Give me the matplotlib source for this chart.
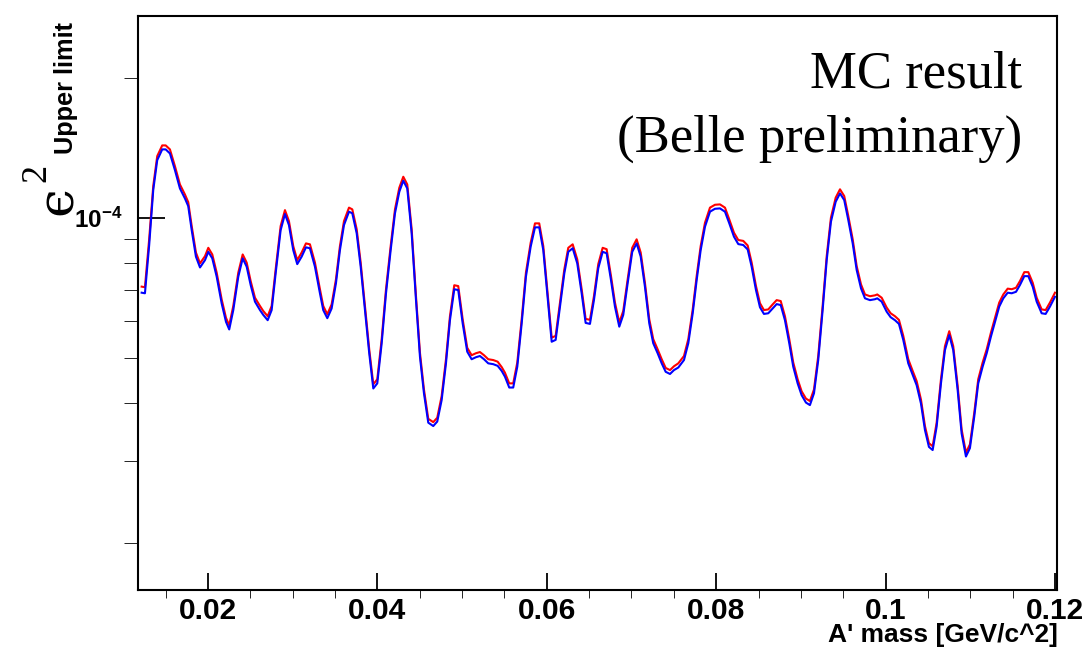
import numpy as np
import matplotlib
matplotlib.use('Agg')  # headless
import matplotlib.pyplot as plt
from matplotlib.ticker import FixedLocator, NullFormatter, FixedFormatter

# A' mass points [GeV/c^2]
mass = [0.01217, 0.01256, 0.01306, 0.01354, 0.01401, 0.01460, 0.01501, 0.01551, 0.01610, 0.01669,
        0.01728, 0.01767, 0.01808, 0.01858, 0.01906, 0.01965, 0.02004, 0.02051, 0.02103, 0.02162,
        0.02213, 0.02251, 0.02299, 0.02358, 0.02410, 0.02457, 0.02504, 0.02555, 0.02614, 0.02653,
        0.02705, 0.02752, 0.02799, 0.02858, 0.02909, 0.02956, 0.03007, 0.03054, 0.03106, 0.03157,
        0.03204, 0.03263, 0.03322, 0.03361, 0.03409, 0.03460, 0.03511, 0.03558, 0.03606, 0.03665,
        0.03704, 0.03756, 0.03803, 0.03854, 0.03904, 0.03952, 0.03999, 0.04051, 0.04102, 0.04157,
        0.04208, 0.04259, 0.04306, 0.04353, 0.04405, 0.04456, 0.04503, 0.04550, 0.04601, 0.04660,
        0.04707, 0.04759, 0.04810, 0.04857, 0.04908, 0.04955, 0.05007, 0.05061, 0.05113, 0.05164,
        0.05211, 0.05259, 0.05309, 0.05368, 0.05420, 0.05468, 0.05506, 0.05557, 0.05604, 0.05652,
        0.05704, 0.05754, 0.05810, 0.05861, 0.05911, 0.05959, 0.06006, 0.06058, 0.06105, 0.06156,
        0.06207, 0.06254, 0.06306, 0.06360, 0.06412, 0.06459, 0.06510, 0.06557, 0.06608, 0.06660,
        0.06707, 0.06758, 0.06805, 0.06856, 0.06903, 0.06955, 0.07009, 0.07061, 0.07109, 0.07159,
        0.07210, 0.07257, 0.07309, 0.07357, 0.07404, 0.07455, 0.07502, 0.07553, 0.07620, 0.07671,
        0.07723, 0.07770, 0.07817, 0.07868, 0.07927, 0.07986, 0.08045, 0.08104, 0.08155, 0.08210,
        0.08261, 0.08320, 0.08372, 0.08419, 0.08470, 0.08517, 0.08564, 0.08615, 0.08667, 0.08714,
        0.08762, 0.08812, 0.08863, 0.08910, 0.08962, 0.09009, 0.09060, 0.09107, 0.09155, 0.09205,
        0.09257, 0.09305, 0.09355, 0.09411, 0.09462, 0.09512, 0.09560, 0.09612, 0.09659, 0.09710,
        0.09757, 0.09816, 0.09875, 0.09902, 0.09954, 0.10013, 0.10060, 0.10111, 0.10158, 0.10209,
        0.10268, 0.10320, 0.10367, 0.10418, 0.10465, 0.10512, 0.10556, 0.10603, 0.10654, 0.10701,
        0.10752, 0.10799, 0.10851, 0.10898, 0.10949, 0.10996, 0.11047, 0.11094, 0.11146, 0.11194,
        0.11244, 0.11292, 0.11342, 0.11390, 0.11442, 0.11489, 0.11540, 0.11587, 0.11638, 0.11685,
        0.11737, 0.11784, 0.11843, 0.11890, 0.11941, 0.12000]

# epsilon^2 upper limits, in units of 1e-5
ul_blue = [6.91, 6.89, 8.75, 11.49, 13.32, 14.05, 14.05, 13.77, 12.68, 11.58, 11.02, 10.61, 9.42, 8.26, 7.83,
           8.12, 8.46, 8.19, 7.48, 6.55, 5.98, 5.76, 6.34, 7.48, 8.19, 7.86, 7.18, 6.61, 6.34, 6.19, 6.03,
           6.34, 7.60, 9.42, 10.20, 9.66, 8.53, 7.96, 8.26, 8.65, 8.61, 7.86, 6.89, 6.34, 6.09, 6.39, 7.24,
           8.53, 9.66, 10.32, 10.24, 9.27, 7.86, 6.34, 5.12, 4.30, 4.41, 5.38, 6.89, 8.53, 10.24, 11.39,
           12.03, 11.58, 9.27, 6.66, 5.03, 4.20, 3.63, 3.57, 3.65, 4.06, 4.87, 6.03, 7.03, 7.00, 5.94, 5.16,
           4.97, 5.02, 5.05, 4.97, 4.87, 4.85, 4.81, 4.69, 4.56, 4.32, 4.32, 4.79, 5.94, 7.48, 8.68, 9.55,
           9.55, 8.53, 6.89, 5.42, 5.47, 6.45, 7.60, 8.46, 8.61, 7.99, 6.89, 5.95, 5.92, 6.66, 7.80, 8.46,
           8.40, 7.36, 6.45, 5.84, 6.19, 7.24, 8.46, 8.82, 8.26, 7.12, 5.94, 5.38, 5.12, 4.87, 4.67, 4.62,
           4.71, 4.77, 4.95, 5.38, 6.24, 7.36, 8.53, 9.58, 10.32, 10.47, 10.49, 10.32, 9.74, 9.12, 8.79,
           8.75, 8.56, 7.86, 7.00, 6.43, 6.22, 6.24, 6.39, 6.53, 6.50, 6.03, 5.38, 4.79, 4.41, 4.16, 4.01,
           3.96, 4.20, 4.95, 6.34, 8.12, 9.82, 10.84, 11.30, 10.93, 9.90, 8.82, 7.73, 7.06, 6.72, 6.66,
           6.69, 6.72, 6.61, 6.29, 6.12, 6.03, 5.92, 5.47, 4.87, 4.60, 4.37, 3.99, 3.50, 3.22, 3.17, 3.56,
           4.41, 5.20, 5.60, 5.20, 4.27, 3.44, 3.07, 3.20, 3.74, 4.41, 4.79, 5.12, 5.56, 5.98, 6.45, 6.72,
           6.91, 6.89, 6.94, 7.18, 7.50, 7.50, 7.12, 6.61, 6.24, 6.22, 6.45, 6.77]

ul_red = [7.12, 7.10, 9.01, 11.72, 13.59, 14.33, 14.33, 14.05, 12.93, 11.81, 11.24, 10.82, 9.61, 8.43, 7.99,
          8.28, 8.63, 8.35, 7.63, 6.68, 6.10, 5.88, 6.47, 7.63, 8.35, 8.02, 7.32, 6.74, 6.47, 6.31, 6.15,
          6.47, 7.75, 9.61, 10.40, 9.85, 8.70, 8.12, 8.43, 8.82, 8.78, 8.02, 7.03, 6.47, 6.21, 6.52, 7.38,
          8.70, 9.85, 10.53, 10.44, 9.46, 8.02, 6.47, 5.22, 4.39, 4.50, 5.49, 7.03, 8.70, 10.44, 11.62,
          12.27, 11.81, 9.46, 6.79, 5.13, 4.28, 3.70, 3.64, 3.72, 4.14, 4.97, 6.15, 7.17, 7.14, 6.06, 5.26,
          5.07, 5.12, 5.15, 5.07, 4.97, 4.95, 4.91, 4.78, 4.65, 4.41, 4.41, 4.89, 6.06, 7.63, 8.85, 9.74,
          9.74, 8.70, 7.03, 5.53, 5.58, 6.58, 7.75, 8.63, 8.78, 8.15, 7.03, 6.07, 6.04, 6.79, 7.96, 8.63,
          8.57, 7.51, 6.58, 5.96, 6.31, 7.38, 8.63, 9.00, 8.43, 7.26, 6.06, 5.49, 5.22, 4.97, 4.76, 4.71,
          4.80, 4.87, 5.05, 5.49, 6.36, 7.51, 8.70, 9.77, 10.53, 10.68, 10.70, 10.53, 9.93, 9.30, 8.97,
          8.93, 8.73, 8.02, 7.14, 6.56, 6.34, 6.36, 6.52, 6.66, 6.63, 6.15, 5.49, 4.89, 4.50, 4.24, 4.09,
          4.04, 4.28, 5.05, 6.47, 8.28, 10.02, 11.06, 11.53, 11.15, 10.10, 9.00, 7.88, 7.20, 6.85, 6.79,
          6.82, 6.85, 6.74, 6.42, 6.24, 6.15, 6.04, 5.58, 4.97, 4.69, 4.46, 4.07, 3.57, 3.28, 3.23, 3.63,
          4.50, 5.30, 5.71, 5.30, 4.36, 3.51, 3.13, 3.26, 3.81, 4.50, 4.89, 5.22, 5.67, 6.10, 6.58, 6.85,
          7.05, 7.03, 7.08, 7.32, 7.65, 7.65, 7.26, 6.74, 6.36, 6.34, 6.58, 6.91]

x_ticks = [0.02, 0.04, 0.06, 0.08, 0.10, 0.12]
x_ticklabels = ['0.02', '0.04', '0.06', '0.08', '0.1', '0.12']
x_minor = [0.015, 0.025, 0.03, 0.035, 0.045, 0.05, 0.055, 0.065, 0.07, 0.075,
           0.085, 0.09, 0.095, 0.105, 0.11, 0.115]
y_minor = [2e-5, 3e-5, 4e-5, 5e-5, 6e-5, 7e-5, 8e-5, 9e-5, 2e-4]

plt.rcParams['mathtext.fontset'] = 'custom'
plt.rcParams['mathtext.bf'] = 'Liberation Sans:bold'
plt.rcParams['mathtext.rm'] = 'Liberation Sans:bold'
label_font = 'Liberation Sans'

fig = plt.figure(figsize=(10.84, 6.48), dpi=100)
ax = fig.add_axes([138/1084, 1-590/648, 919/1084, 574/648])

x = np.array(mass)
ax.plot(x, np.array(ul_red) * 1e-5, color='#ff0000', lw=1.5)
ax.plot(x, np.array(ul_blue) * 1e-5, color='#0000ff', lw=1.5)

ax.set_yscale('log')
ax.set_ylim(1.585e-5, 2.72e-4)
ax.set_xlim(0.01174, 0.12024)

ax.xaxis.set_major_locator(FixedLocator(x_ticks))
ax.xaxis.set_major_formatter(FixedFormatter(x_ticklabels))
ax.xaxis.set_minor_locator(FixedLocator(x_minor))
ax.yaxis.set_major_locator(FixedLocator([1e-4]))
ax.yaxis.set_major_formatter(FixedFormatter([r'$\mathbf{10^{-4}}$']))
ax.yaxis.set_minor_locator(FixedLocator(y_minor))
ax.yaxis.set_minor_formatter(NullFormatter())

ax.tick_params(direction='in', width=1.3, top=False, right=False)
ax.tick_params(axis='x', which='major', length=12.5, pad=5)
ax.tick_params(axis='x', which='minor', length=6)
ax.tick_params(axis='y', which='major', length=19.5, pad=11)
ax.tick_params(axis='y', which='minor', length=10)
for lab in ax.get_xticklabels():
    lab.set_family(label_font)
    lab.set_fontweight('bold')
    lab.set_fontsize(21.5)
for lab in ax.get_yticklabels():
    lab.set_fontsize(17.5)
for s in ax.spines.values():
    s.set_linewidth(1.5)

# axis titles
fig.text(1058/1084, 1-635/648, "A' mass [GeV/c^2]", ha='right', va='center',
         family=label_font, fontweight='bold', fontsize=19)
fig.text(58/1084, 1-201/648, '\u03f5', rotation=90, ha='center', va='center',
         family='DejaVu Serif', fontsize=37)
fig.text(37/1084, 1-173/648, '2', rotation=90, ha='center', va='center',
         family='Liberation Serif', fontsize=26)
fig.text(66/1084, 1-88.5/648, 'Upper limit', rotation=90, ha='center', va='center',
         family=label_font, fontweight='bold', fontsize=18.3)

ax.text(0.9619, 0.8763, 'MC result', transform=ax.transAxes, ha='right', va='baseline',
        family='Liberation Serif', fontsize=38)
ax.text(0.9619, 0.7631, '(Belle preliminary)', transform=ax.transAxes, ha='right', va='baseline',
        family='Liberation Serif', fontsize=38)

fig.savefig('out.png', dpi=100)
